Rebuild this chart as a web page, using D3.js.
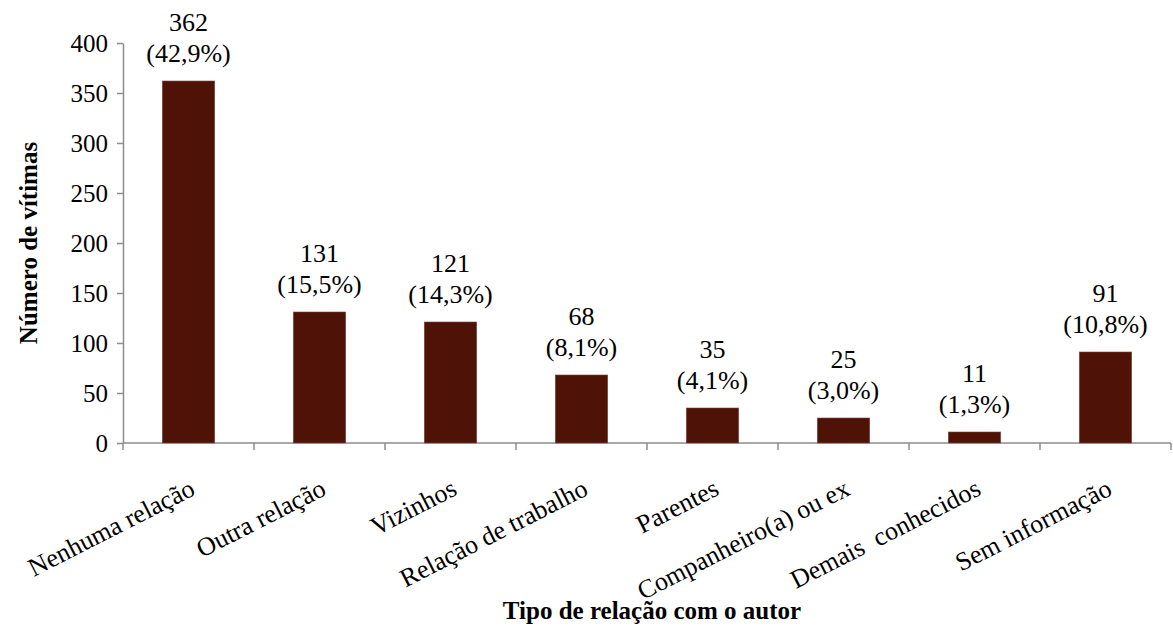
<!DOCTYPE html>
<html>
<head>
<meta charset="utf-8">
<script src="https://cdn.jsdelivr.net/npm/d3@7"></script>
</head>
<body style="margin:0">
<svg id="chart" width="1173" height="630"></svg>
<script>
// Victims by type of relationship with the perpetrator
const categories = [
  "Nenhuma relação", "Outra relação", "Vizinhos", "Relação de trabalho",
  "Parentes", "Companheiro(a) ou ex", "Demais  conhecidos", "Sem informação"
];
const counts = [362, 131, 121, 68, 35, 25, 11, 91];
const percents = ["42,9%", "15,5%", "14,3%", "8,1%", "4,1%", "3,0%", "1,3%", "10,8%"];
const yTicks = [0, 50, 100, 150, 200, 250, 300, 350, 400];

const svg = d3.select("#chart");
const margin = { left: 123, right: 2, top: 43, bottom: 187 };
const W = 1173, H = 630;

// shared text styling (page default serif face)
function textStyle(sel, size, bold) {
  sel.attr("font-size", size)
     .attr("font-weight", bold ? "bold" : null)
     .attr("fill", "#000");
  return sel;
}

const x = d3.scaleBand()
  .domain(categories)
  .range([margin.left, W - margin.right])
  .paddingInner(0.6)
  .paddingOuter(0.3);

const y = d3.scaleLinear()
  .domain([0, 400])
  .range([H - margin.bottom, margin.top]);

const axisColor = "#8c8c8c";

// Y axis
const yAxis = svg.append("g")
  .attr("transform", `translate(${margin.left},0)`)
  .call(d3.axisLeft(y).tickValues(yTicks).tickSize(6).tickPadding(9).tickSizeOuter(0));
yAxis.attr("font-family", null).attr("font-size", null);
yAxis.select(".domain").attr("stroke", axisColor).attr("stroke-width", 1.5);
yAxis.selectAll(".tick line").attr("stroke", axisColor).attr("stroke-width", 1.5);
textStyle(yAxis.selectAll(".tick text").attr("dy", "0.35em"), 25);

// X axis: ticks at category boundaries
const boundaries = d3.range(categories.length + 1).map(i => margin.left + i * (W - margin.right - margin.left) / categories.length);
const xAxisG = svg.append("g");
xAxisG.append("line")
  .attr("x1", margin.left).attr("x2", W - margin.right)
  .attr("y1", y(0)).attr("y2", y(0))
  .attr("stroke", axisColor).attr("stroke-width", 1.5);
xAxisG.selectAll("line.tk")
  .data(boundaries)
  .join("line")
  .attr("class", "tk")
  .attr("x1", d => d).attr("x2", d => d)
  .attr("y1", y(0)).attr("y2", y(0) + 7)
  .attr("stroke", axisColor).attr("stroke-width", 1.5);

// Bars
svg.append("g")
  .selectAll("rect")
  .data(categories)
  .join("rect")
  .attr("x", d => x(d))
  .attr("width", x.bandwidth())
  .attr("y", (d, i) => y(counts[i]))
  .attr("height", (d, i) => y(0) - y(counts[i]))
  .attr("fill", "#4e1207")
  .attr("stroke", "#7a4a42")
  .attr("stroke-width", 0.6);

// Value labels: count on top, share in parentheses below
const lbl = textStyle(svg.append("g")
  .selectAll("text")
  .data(categories)
  .join("text")
  .attr("text-anchor", "middle"), 26);
lbl.append("tspan")
  .attr("x", d => x(d) + x.bandwidth() / 2)
  .attr("y", (d, i) => y(counts[i]) - 50)
  .text((d, i) => counts[i]);
lbl.append("tspan")
  .attr("x", d => x(d) + x.bandwidth() / 2)
  .attr("y", (d, i) => y(counts[i]) - 19)
  .text((d, i) => `(${percents[i]})`);

// Category labels, rotated
textStyle(svg.append("g")
  .selectAll("text")
  .data(categories)
  .join("text")
  .attr("text-anchor", "end")
  .attr("xml:space", "preserve")
  .attr("transform", d => `translate(${x(d) + x.bandwidth() / 2 + 8},${y(0) + 51}) rotate(-27)`)
  .text(d => d), 26);

// Axis titles
textStyle(svg.append("text")
  .attr("text-anchor", "middle")
  .attr("transform", `translate(37,${(y(0) + y(400)) / 2}) rotate(-90)`)
  .text("Número de vítimas"), 25, true);

textStyle(svg.append("text")
  .attr("x", 652)
  .attr("y", 619)
  .attr("text-anchor", "middle")
  .text("Tipo de relação com o autor"), 25, true);
</script>
</body>
</html>
